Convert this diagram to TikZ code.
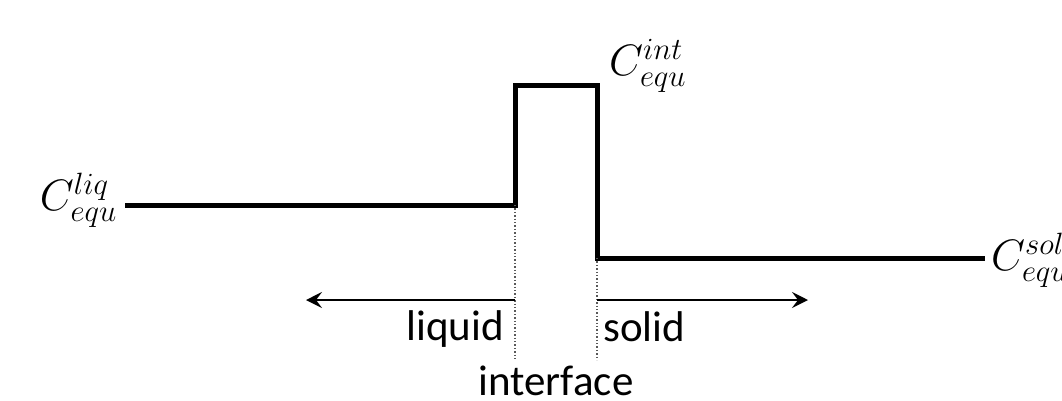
\documentclass[tikz,border=0pt]{standalone}
\usepackage{fix-cm}
\usepackage{fontspec}
\setmainfont{Carlito}
\usetikzlibrary{arrows.meta}
\begin{document}
\begin{tikzpicture}[x=1pt,y=-1pt,
  profile/.style={line width=5pt,line join=miter},
  guide/.style={line width=1.4pt,dotted,black!65},
  dirarrow/.style={line width=1.8pt,-{Stealth[length=16pt,width=16pt,inset=6pt]}},
  word/.style={font=\fontsize{43}{48}\selectfont,inner sep=0pt},
  conc/.style={font=\fontsize{44}{50}\selectfont,inner sep=0pt}]
\useasboundingbox (0,0) rectangle (1062,400);
% concentration profile across the interface
\coordinate (l0) at (125,205);
\coordinate (l1) at (515,205);
\coordinate (t0) at (515,85);
\coordinate (t1) at (597,85);
\coordinate (s0) at (597,258);
\coordinate (s1) at (985,258);
\draw[profile] (l0) -- (l1) -- (t0) -- (t1) -- (s0) -- (s1);
% interface boundaries
\coordinate (d0) at (515,360);
\coordinate (d1) at (597,360);
\draw[guide] (l1) -- (d0);
\draw[guide] (s0) -- (d1);
% direction arrows
\coordinate (a0) at (515,300);
\coordinate (a1) at (597,300);
\coordinate (ae0) at (306,300);
\coordinate (ae1) at (808,300);
\draw[dirarrow] (a0) -- (ae0);
\draw[dirarrow] (a1) -- (ae1);
% labels
\node[word,anchor=east] (liq) at (504,329) {liquid};
\node[word,anchor=west] (sol) at (603,327) {solid};
\node[word] (intf) at (556,381) {interface};
\node[conc,anchor=east] (cl) at (117,200) {$C_{equ}^{liq}$};
\node[conc,anchor=west] (ci) at (609,66) {$C_{equ}^{int}$};
\node[conc,anchor=west] (cs) at (991,260) {$C_{equ}^{sol}$};
\end{tikzpicture}
\end{document}
